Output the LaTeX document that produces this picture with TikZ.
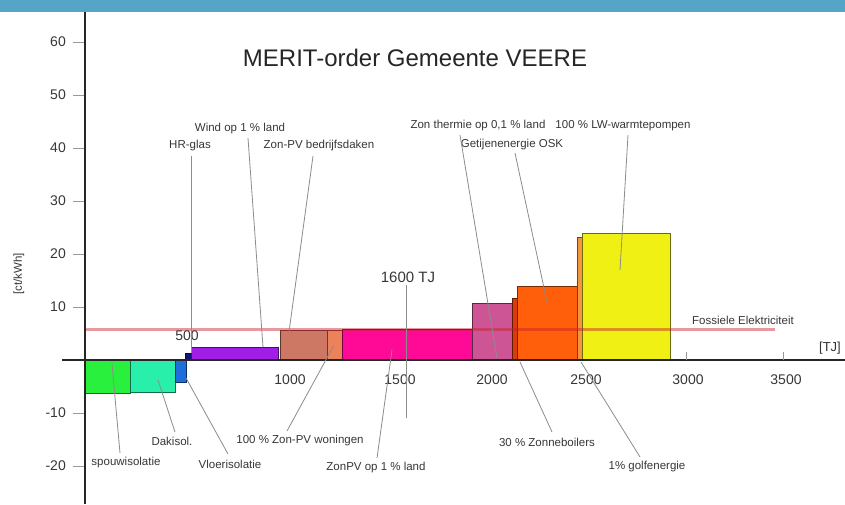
\documentclass[tikz,border=0pt]{standalone}
\usepackage{fontspec}
\setmainfont{Liberation Sans}
\definecolor{bandc}{RGB}{84,165,200}
\definecolor{cGreen}{RGB}{40,240,60}
\definecolor{cTeal}{RGB}{40,240,170}
\definecolor{cBlue}{RGB}{30,110,220}
\definecolor{cNavy}{RGB}{20,20,120}
\definecolor{cPurple}{RGB}{160,30,230}
\definecolor{cBrown}{RGB}{205,120,100}
\definecolor{cSalmon}{RGB}{235,130,90}
\definecolor{cMagenta}{RGB}{255,10,150}
\definecolor{cPink}{RGB}{205,85,150}
\definecolor{cDarkOr}{RGB}{215,60,10}
\definecolor{cOrange}{RGB}{255,95,10}
\definecolor{cLtOrange}{RGB}{245,150,60}
\definecolor{cYellow}{RGB}{240,240,20}
\definecolor{cFossil}{RGB}{200,30,40}
\definecolor{txt}{RGB}{55,55,55}
\begin{document}
\begin{tikzpicture}[x=1pt,y=-1pt,
  lbl/.style={font=\fontsize{11.5}{13}\selectfont, text=txt, inner sep=0pt},
  ticklbl/.style={font=\fontsize{14}{16}\selectfont, text=txt, inner sep=0pt},
  bigtxt/.style={font=\fontsize{15}{17}\selectfont, text=txt, inner sep=0pt},
  titletxt/.style={font=\fontsize{24}{27}\selectfont, text=black!85, inner sep=0pt},
  leader/.style={draw=black!45, line width=0.8pt},
  bar/.style={fill=#1, draw=#1!45!black, line width=0.7pt},
  axis/.style={draw=black!85, line width=2pt},
  ytick/.style={draw=black!40, line width=0.8pt}]
\useasboundingbox (0,0) rectangle (845,504);
\fill[white] (0,0) rectangle (845,504);
\fill[bandc] (0,0) rectangle (845,12);

% bars
\draw[bar=cGreen] (85,360) rectangle (130,393);
\draw[bar=cTeal] (130,360) rectangle (175,392);
\draw[bar=cBlue] (175,360) rectangle (186,382);
\draw[bar=cNavy] (185,353) rectangle (192,360);
\draw[bar=cPurple] (191,347) rectangle (278,360);
\draw[bar=cBrown] (280,330) rectangle (327,360);
\draw[bar=cSalmon] (327,330) rectangle (342,360);
\draw[bar=cMagenta] (342,329) rectangle (472,360);
\draw[bar=cPink] (472,303) rectangle (512,360);
\draw[bar=cDarkOr] (512,298) rectangle (517,360);
\draw[bar=cOrange] (517,286) rectangle (577,360);
\draw[bar=cLtOrange] (577,237) rectangle (582,360);
\draw[bar=cYellow] (582,233) rectangle (670,360);

% fossil electricity line
\coordinate (fosA) at (85,329);
\coordinate (fosB) at (775,329);
\draw[cFossil, opacity=0.45, line width=3pt] (fosA) -- (fosB);

% axes
\coordinate (xa0) at (62,360);
\coordinate (xa1) at (845,360);
\coordinate (ya0) at (85,504);
\coordinate (ya1) at (85,12);
\draw[axis] (xa0) -- (xa1);
\draw[axis] (ya0) -- (ya1);

% y ticks and labels
\foreach \v/\n in {60/y60,50/y50,40/y40,30/y30,20/y20,10/y10,-10/ym10,-20/ym20}{
  \pgfmathsetmacro{\yy}{360-5.3*\v}
  \coordinate (\n a) at (73,\yy);
  \coordinate (\n b) at (84,\yy);
  \draw[ytick] (\n a) -- (\n b);
  \node[ticklbl, anchor=east] (\n) at (66,\yy) {\v};
}

% x ticks
\coordinate (t3a) at (686,352); \coordinate (t3b) at (686,360);
\coordinate (t35a) at (783,352); \coordinate (t35b) at (783,360);
\draw[ytick] (t3a) -- (t3b);
\draw[ytick] (t35a) -- (t35b);

% x labels
\node[ticklbl] (x500) at (187,336) {500};
\node[ticklbl] (x1000) at (290,380) {1000};
\node[ticklbl] (x1500) at (400,380) {1500};
\node[ticklbl] (x2000) at (492,380) {2000};
\node[ticklbl] (x2500) at (586,380) {2500};
\node[ticklbl] (x3000) at (688,380) {3000};
\node[ticklbl] (x3500) at (786,380) {3500};
\node[font=\fontsize{13}{15}\selectfont, text=black!80, inner sep=0pt] (unitx) at (830,348) {[TJ]};
\node[lbl, rotate=90] (unity) at (19,274) {[ct/kWh]};

% title and annotations
\node[titletxt] (title) at (415,58) {MERIT-order Gemeente VEERE};
\node[lbl] (fossil) at (743,320) {Fossiele Elektriciteit};
\node[bigtxt] (tj1600) at (408,277) {1600 TJ};

\node[lbl] (lWind) at (240,129) {Wind op 1 \% land};
\node[lbl] (lHR) at (190,146) {HR-glas};
\node[lbl] (lZPVb) at (319,146) {Zon-PV bedrijfsdaken};
\node[lbl] (lZT) at (478,126) {Zon thermie op 0,1 \% land};
\node[lbl] (lLW) at (623,126) {100 \% LW-warmtepompen};
\node[lbl] (lGet) at (512,145) {Getijenenergie OSK};

\node[lbl] (lSpouw) at (126,463) {spouwisolatie};
\node[lbl] (lDak) at (172,441) {Dakisol.};
\node[lbl] (lVloer) at (230,464) {Vloerisolatie};
\node[lbl] (lWon) at (300,441) {100 \% Zon-PV woningen};
\node[lbl] (lZPVl) at (376,468) {ZonPV op 1 \% land};
\node[lbl] (lBoil) at (547,442) {30 \% Zonneboilers};
\node[lbl] (lGolf) at (647,467) {1\% golfenergie};

% leader lines
\coordinate (wA) at (248,138); \coordinate (wB) at (263,347);
\coordinate (hA) at (191,156); \coordinate (hB) at (191,353);
\coordinate (zbA) at (313,156); \coordinate (zbB) at (289,332);
\coordinate (ztA) at (460,135); \coordinate (ztB) at (497,358);
\coordinate (gA) at (515,153); \coordinate (gB) at (547,302);
\coordinate (lwA) at (628,135); \coordinate (lwB) at (620,270);
\coordinate (tjA) at (406,285); \coordinate (tjB) at (406,418);
\coordinate (sA) at (120,453); \coordinate (sB) at (112,364);
\coordinate (dA) at (175,432); \coordinate (dB) at (158,380);
\coordinate (vA) at (228,454); \coordinate (vB) at (186,378);
\coordinate (woA) at (287,431); \coordinate (woB) at (334,345);
\coordinate (zlA) at (377,458); \coordinate (zlB) at (392,350);
\coordinate (bA) at (552,432); \coordinate (bB) at (520,362);
\coordinate (goA) at (640,457); \coordinate (goB) at (581,362);
\foreach \a/\b in {wA/wB,hA/hB,zbA/zbB,ztA/ztB,gA/gB,lwA/lwB,tjA/tjB,sA/sB,dA/dB,vA/vB,woA/woB,zlA/zlB,bA/bB,goA/goB}{
  \draw[leader] (\a) -- (\b);
}
\end{tikzpicture}
\end{document}
